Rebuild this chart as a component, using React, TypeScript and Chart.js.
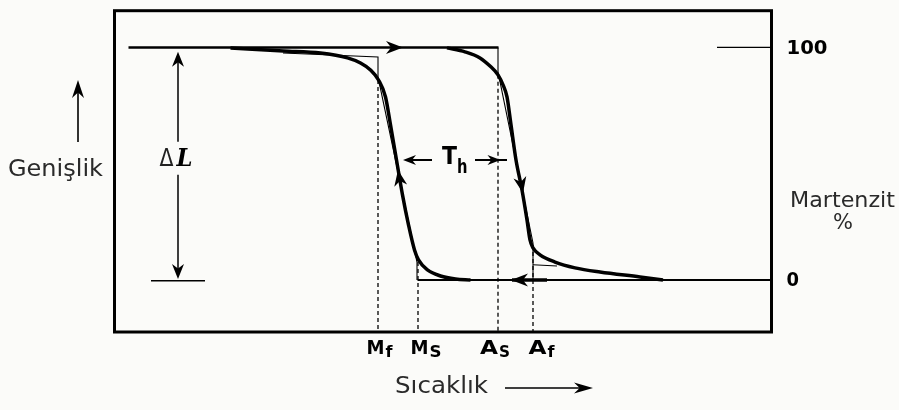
import React, { useEffect, useRef } from "react";
import { Chart, registerables } from "chart.js";

Chart.register(...registerables);

// ---- scale ranges (temperature: arbitrary units, martensite %) ----
const xMin = 0;
const xMax = 657;
const yMin = -22.4;
const yMax = 115.8;

// ---- cooling (martensite forming) curve, traversed upward ----
const coolingX = [116, 169, 206, 233, 246, 256, 264, 271, 276, 282, 288, 294, 300, 304, 313, 326, 341, 356];
const coolingY = [99.8, 98.5, 97.6, 95.5, 93.3, 90.3, 86.0, 78.7, 66.7, 51.6, 36.6, 23.7, 12.9, 8.6, 4.3, 1.7, 0.4, 0];

// ---- heating (austenite forming) curve, traversed downward ----
const heatingX = [332.5, 350.5, 365.5, 375.5, 383.5, 388.5, 392.5, 396.5, 401.5, 407.5, 412.5, 415.5, 418.5, 425.5, 440.5, 460.5, 485.5, 525.5, 548.5];
const heatingY = [99.8, 98.1, 95.5, 92.0, 88.2, 83.9, 78.7, 66.7, 51.6, 38.7, 25.8, 17.2, 13.8, 10.8, 7.7, 5.2, 3.4, 1.3, 0];

// ---- straight levels ----
const topLineX = [14, 384];
const topLineY = [100, 100];
const baseLineX = [303, 657];
const baseLineY = [0, 0];
const refTickX = [602.5, 657];
const refTickY = [100, 100];

// ---- idealised tangent construction (thin lines) ----
const idealLeftX = [168.5, 263.5, 263.5, 302.5, 302.5];
const idealLeftY = [97.6, 95.9, 87.3, 7.7, 0];
const idealRightX = [383.5, 383.5, 418.5, 418.5];
const idealRightY = [100, 89.5, 15.9, 0];
const idealRightTailX = [418.5, 442.5];
const idealRightTailY = [6.5, 6.0];

// ---- transformation temperatures ----
const transformMain = ["M", "M", "A", "A"];
const transformSub = ["f", "S", "S", "f"];
const transformX = [263.5, 303.5, 383.5, 418.5];
const transformTopY = [86, 7.7, 88.2, 15];

// ---- right axis tick labels ----
const yTickValues = [100, 0];
const yTickLabels = ["100", "0"];

// ---- annotation values ----
const deltaLX = 63.5;
const deltaLTop = 98.1;
const deltaLBottom = 0.4;
const hysteresisY = 51.6;

const pts = (xs: number[], ys: number[]) => xs.map((x, i) => ({ x, y: ys[i] }));

function drawArrow(ctx: CanvasRenderingContext2D, x: number, y: number, angle: number, len = 16, half = 6) {
  ctx.save();
  ctx.translate(x, y);
  ctx.rotate(angle);
  ctx.beginPath();
  ctx.moveTo(0, 0);
  ctx.lineTo(-len, -half);
  ctx.lineTo(-len * 0.7, 0);
  ctx.lineTo(-len, half);
  ctx.closePath();
  ctx.fill();
  ctx.restore();
}

function fitText(ctx: CanvasRenderingContext2D, text: string, left: number, baseline: number, width: number, font: string) {
  ctx.save();
  ctx.font = font;
  ctx.textAlign = "left";
  ctx.textBaseline = "alphabetic";
  const w = ctx.measureText(text).width;
  ctx.translate(left, baseline);
  ctx.scale(width / w, 1);
  ctx.fillText(text, 0, 0);
  ctx.restore();
}

const annotations = {
  id: "annotations",
  beforeDraw(chart: any) {
    const ctx = chart.ctx;
    ctx.save();
    ctx.fillStyle = "#fbfbf9";
    ctx.fillRect(0, 0, chart.width, chart.height);
    ctx.restore();
  },
  afterDatasetsDraw(chart: any) {
    const ctx: CanvasRenderingContext2D = chart.ctx;
    const xs = chart.scales.x;
    const ys = chart.scales.y;
    const area = chart.chartArea;
    const X = (v: number) => xs.getPixelForValue(v);
    const Y = (v: number) => ys.getPixelForValue(v);

    ctx.save();
    ctx.fillStyle = "#000";
    ctx.strokeStyle = "#000";

    // frame
    ctx.lineWidth = 3;
    ctx.strokeRect(area.left, area.top, area.right - area.left, area.bottom - area.top);

    // direction arrows on the levels
    drawArrow(ctx, X(288.5), Y(100), 0, 17, 6.5);
    ctx.lineWidth = 3.5;
    ctx.beginPath();
    ctx.moveTo(X(397.5), Y(0));
    ctx.lineTo(X(432.5), Y(0));
    ctx.stroke();
    drawArrow(ctx, X(396.5), Y(0), Math.PI, 17, 6.5);

    // arrows on the curves
    const cA = Math.atan2(Y(51.6) - Y(36.6), X(282) - X(288));
    drawArrow(ctx, X(283.5), Y(47.3), cA, 16, 6.5);
    const hA = Math.atan2(Y(38.7) - Y(51.6), X(407.5) - X(401.5));
    drawArrow(ctx, X(408.5), Y(37.4), hA, 16, 6.5);

    // ΔL dimension
    ctx.lineWidth = 1.5;
    ctx.beginPath();
    ctx.moveTo(X(deltaLX), Y(deltaLTop) + 10);
    ctx.lineTo(X(deltaLX), Y(59.4));
    ctx.moveTo(X(deltaLX), Y(45.2));
    ctx.lineTo(X(deltaLX), Y(deltaLBottom) - 10);
    ctx.stroke();
    drawArrow(ctx, X(deltaLX), Y(deltaLTop), -Math.PI / 2, 15, 6);
    drawArrow(ctx, X(deltaLX), Y(deltaLBottom), Math.PI / 2, 15, 6);
    ctx.beginPath();
    ctx.moveTo(X(36.5), Y(-0.4));
    ctx.lineTo(X(90.5), Y(-0.4));
    ctx.stroke();
    ctx.fillStyle = "#222";
    fitText(ctx, "Δ", X(deltaLX) - 18.5, Y(51.6) + 6.5, 14, "24px 'DejaVu Sans'");
    ctx.fillStyle = "#000";
    fitText(ctx, "L", X(deltaLX) - 1.5, Y(51.6) + 6.5, 16, "italic bold 24px 'DejaVu Serif'");

    // hysteresis T_h
    ctx.lineWidth = 2;
    ctx.beginPath();
    ctx.moveTo(X(317.5), Y(hysteresisY));
    ctx.lineTo(X(296), Y(hysteresisY));
    ctx.moveTo(X(360.5), Y(hysteresisY));
    ctx.lineTo(X(392.5), Y(hysteresisY));
    ctx.stroke();
    drawArrow(ctx, X(288.5), Y(hysteresisY), Math.PI, 13, 5);
    drawArrow(ctx, X(386), Y(hysteresisY), 0, 13, 5);
    fitText(ctx, "T", X(327.5), Y(hysteresisY) + 4, 15, "bold 25px 'DejaVu Sans'");
    fitText(ctx, "h", X(342.5), Y(hysteresisY) + 13, 10.5, "bold 20px 'DejaVu Sans'");

    // transformation temperature labels
    const centerShift = [1.5, 8, -3, 8.5];
    const mainW = [18, 18, 18, 18];
    const subW = [7, 12, 11, 7];
    transformX.forEach((v, i) => {
      const total = mainW[i] + subW[i] + 1;
      const left = X(v) + centerShift[i] - total / 2;
      fitText(ctx, transformMain[i], left, area.bottom + 21.5, mainW[i], "bold 20px 'DejaVu Sans'");
      fitText(ctx, transformSub[i], left + mainW[i] + 1, area.bottom + 25, subW[i], "bold 16px 'DejaVu Sans'");
    });

    // right-hand % ticks
    ctx.textBaseline = "middle";
    const tickW = [41, 12.5];
    yTickValues.forEach((v, i) => {
      ctx.save();
      ctx.font = "bold 20px 'DejaVu Sans'";
      const w = ctx.measureText(yTickLabels[i]).width;
      ctx.translate(area.right + 15, Y(v) + 1);
      ctx.scale(tickW[i] / w, 1);
      ctx.fillText(yTickLabels[i], 0, 0);
      ctx.restore();
    });
    ctx.textBaseline = "alphabetic";

    // axis titles
    ctx.fillStyle = "#2a2a2a";
    fitText(ctx, "Genişlik", 8, 175.5, 95, "23px 'DejaVu Sans'");
    fitText(ctx, "Sıcaklık", 395, 393, 93, "23px 'DejaVu Sans'");
    fitText(ctx, "Martenzit", 790, 207, 105, "22px 'DejaVu Sans'");
    ctx.font = "21px 'DejaVu Sans'";
    ctx.textAlign = "center";
    ctx.fillText("%", 843, 229);

    // axis direction arrows
    ctx.fillStyle = "#000";
    ctx.lineWidth = 1.6;
    ctx.beginPath();
    ctx.moveTo(78, 142);
    ctx.lineTo(78, 90);
    ctx.moveTo(505, 388);
    ctx.lineTo(583, 388);
    ctx.stroke();
    drawArrow(ctx, 78, 80, -Math.PI / 2, 18, 6);
    drawArrow(ctx, 593, 388, 0, 19, 5.5);

    ctx.restore();
  },
};

export default function App() {
  const ref = useRef<HTMLCanvasElement>(null);
  useEffect(() => {
    if (!ref.current) return;
    const thick = { showLine: true, pointRadius: 0, borderColor: "#000", fill: false };
    const datasets: any[] = [
      { ...thick, data: pts(topLineX, topLineY), borderWidth: 2.5 },
      { ...thick, data: pts(baseLineX, baseLineY), borderWidth: 2 },
      { ...thick, data: pts(refTickX, refTickY), borderWidth: 1.2 },
      { ...thick, data: pts(idealLeftX, idealLeftY), borderWidth: 1.1 },
      { ...thick, data: pts(idealRightX, idealRightY), borderWidth: 1.1 },
      { ...thick, data: pts(idealRightTailX, idealRightTailY), borderWidth: 1.1 },
      ...transformX.map((v, i) => ({
        ...thick,
        data: [{ x: v, y: transformTopY[i] }, { x: v, y: yMin }],
        borderWidth: 1.3,
        borderDash: [4, 3],
      })),
      { ...thick, data: pts(coolingX, coolingY), borderWidth: 3.5, cubicInterpolationMode: "monotone" },
      { ...thick, data: pts(heatingX, heatingY), borderWidth: 3.5, cubicInterpolationMode: "monotone" },
    ];
    const chart = new Chart(ref.current, {
      type: "scatter",
      data: { datasets },
      options: {
        animation: false,
        responsive: true,
        maintainAspectRatio: false,
        layout: { padding: { left: 114.5, right: 127.5, top: 10.7, bottom: 78 } },
        plugins: { legend: { display: false }, tooltip: { enabled: false } },
        events: [],
        scales: {
          x: { type: "linear", min: xMin, max: xMax, display: false },
          y: { type: "linear", min: yMin, max: yMax, display: false },
        },
      },
      plugins: [annotations],
    });
    return () => chart.destroy();
  }, []);
  return (
    <div style={{ position: "absolute", left: 0, top: 0, width: 899, height: 410 }}>
      <canvas ref={ref} />
    </div>
  );
}
